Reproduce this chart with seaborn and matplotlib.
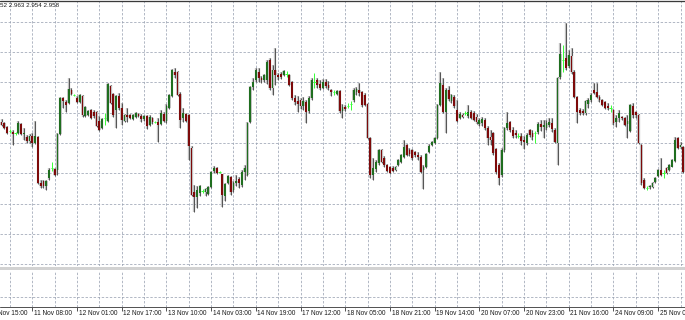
import numpy as np
import pandas as pd
import matplotlib
matplotlib.use("Agg")
import matplotlib.pyplot as plt
from matplotlib.patches import Rectangle
import seaborn as sns

# ---------------- data (H1 candles) ----------------
opens = [2.9628,2.9627,2.9623,2.9619,2.9618,2.9617,2.9617,2.9626,2.9616,2.9613,
2.9609,2.9614,2.9607,2.9613,2.9567,2.9569,2.9564,2.9572,2.9582,2.9581,
2.9580,2.9616,2.9652,2.9648,2.9647,2.9660,2.9655,2.9652,2.9648,2.9654,
2.9634,2.9635,2.9640,2.9638,2.9638,2.9629,2.9622,2.9632,2.9629,2.9664,
2.9656,2.9640,2.9654,2.9642,2.9629,2.9635,2.9635,2.9631,2.9633,2.9636,
2.9634,2.9631,2.9634,2.9625,2.9632,2.9628,2.9628,2.9626,2.9636,2.9629,
2.9642,2.9654,2.9678,2.9678,2.9656,2.9632,2.9636,2.9635,2.9602,2.9558,
2.9553,2.9557,2.9559,2.9558,2.9556,2.9563,2.9579,2.9582,2.9578,2.9576,
2.9554,2.9567,2.9573,2.9560,2.9567,2.9571,2.9565,2.9578,2.9575,2.9628,
2.9663,2.9670,2.9678,2.9672,2.9670,2.9670,2.9690,2.9662,2.9680,2.9675,
2.9676,2.9675,2.9676,2.9675,2.9668,2.9652,2.9649,2.9650,2.9644,2.9648,
2.9639,2.9652,2.9668,2.9670,2.9666,2.9662,2.9668,2.9665,2.9660,2.9658,
2.9656,2.9659,2.9639,2.9643,2.9644,2.9646,2.9650,2.9658,2.9660,2.9658,
2.9655,2.9646,2.9612,2.9575,2.9581,2.9587,2.9600,2.9592,2.9585,2.9583,
2.9582,2.9580,2.9585,2.9588,2.9593,2.9605,2.9600,2.9600,2.9598,2.9595,
2.9593,2.9580,2.9583,2.9598,2.9605,2.9607,2.9612,2.9645,2.9665,2.9638,
2.9660,2.9649,2.9653,2.9640,2.9632,2.9635,2.9637,2.9634,2.9638,2.9637,
2.9633,2.9626,2.9627,2.9630,2.9622,2.9613,2.9617,2.9601,2.9585,2.9575,
2.9600,2.9622,2.9628,2.9620,2.9617,2.9614,2.9614,2.9610,2.9607,2.9620,
2.9617,2.9617,2.9618,2.9626,2.9623,2.9622,2.9625,2.9627,2.9620,2.9607,
2.9673,2.9690,2.9692,2.9684,2.9694,2.9678,2.9653,2.9640,2.9639,2.9637,
2.9646,2.9650,2.9660,2.9658,2.9653,2.9650,2.9648,2.9644,2.9642,2.9640,
2.9628,2.9632,2.9633,2.9632,2.9626,2.9619,2.9644,2.9638,2.9635,2.9605,
2.9570,2.9562,2.9563,2.9563,2.9568,2.9574,2.9580,2.9577,2.9582,2.9580,
2.9583,2.9589,2.9612,2.9603,2.9603]
highs = [2.9631,2.9628,2.9624,2.9621,2.9620,2.9618,2.9629,2.9627,2.9622,2.9615,
2.9616,2.9617,2.9629,2.9614,2.9570,2.9570,2.9570,2.9582,2.9588,2.9582,
2.9617,2.9653,2.9653,2.9650,2.9672,2.9662,2.9656,2.9654,2.9656,2.9655,
2.9644,2.9640,2.9641,2.9640,2.9639,2.9634,2.9632,2.9637,2.9667,2.9665,
2.9657,2.9655,2.9657,2.9647,2.9636,2.9642,2.9636,2.9636,2.9638,2.9637,
2.9636,2.9635,2.9635,2.9635,2.9633,2.9629,2.9632,2.9640,2.9638,2.9646,
2.9656,2.9681,2.9682,2.9679,2.9658,2.9642,2.9637,2.9636,2.9604,2.9565,
2.9564,2.9565,2.9561,2.9562,2.9564,2.9579,2.9584,2.9583,2.9579,2.9576,
2.9567,2.9575,2.9574,2.9569,2.9575,2.9573,2.9580,2.9585,2.9628,2.9664,
2.9672,2.9682,2.9682,2.9674,2.9676,2.9690,2.9692,2.9685,2.9702,2.9677,
2.9678,2.9680,2.9679,2.9676,2.9669,2.9655,2.9654,2.9652,2.9653,2.9650,
2.9654,2.9672,2.9677,2.9672,2.9670,2.9671,2.9671,2.9669,2.9661,2.9660,
2.9660,2.9660,2.9646,2.9645,2.9647,2.9649,2.9662,2.9663,2.9667,2.9659,
2.9657,2.9647,2.9613,2.9592,2.9590,2.9601,2.9601,2.9594,2.9586,2.9584,
2.9584,2.9584,2.9591,2.9596,2.9610,2.9606,2.9602,2.9601,2.9599,2.9598,
2.9595,2.9585,2.9597,2.9606,2.9609,2.9613,2.9646,2.9678,2.9672,2.9662,
2.9664,2.9656,2.9655,2.9650,2.9638,2.9637,2.9639,2.9645,2.9640,2.9639,
2.9636,2.9632,2.9633,2.9632,2.9624,2.9620,2.9618,2.9602,2.9587,2.9602,
2.9623,2.9638,2.9629,2.9623,2.9620,2.9617,2.9617,2.9614,2.9617,2.9621,
2.9620,2.9619,2.9628,2.9630,2.9630,2.9630,2.9632,2.9632,2.9622,2.9673,
2.9707,2.9705,2.9727,2.9700,2.9702,2.9680,2.9654,2.9642,2.9641,2.9650,
2.9652,2.9657,2.9667,2.9667,2.9655,2.9651,2.9649,2.9647,2.9645,2.9641,
2.9635,2.9640,2.9634,2.9633,2.9635,2.9646,2.9647,2.9639,2.9636,2.9606,
2.9572,2.9564,2.9565,2.9568,2.9573,2.9581,2.9592,2.9580,2.9583,2.9586,
2.9591,2.9613,2.9613,2.9608,2.9604]
lows = [2.9624,2.9621,2.9616,2.9617,2.9605,2.9615,2.9616,2.9615,2.9610,2.9607,
2.9607,2.9603,2.9606,2.9566,2.9562,2.9562,2.9560,2.9570,2.9579,2.9574,
2.9575,2.9615,2.9642,2.9638,2.9646,2.9655,2.9654,2.9647,2.9647,2.9633,
2.9633,2.9634,2.9631,2.9632,2.9623,2.9619,2.9621,2.9625,2.9628,2.9646,
2.9633,2.9622,2.9640,2.9625,2.9628,2.9628,2.9631,2.9630,2.9632,2.9633,
2.9628,2.9629,2.9621,2.9624,2.9626,2.9627,2.9608,2.9625,2.9628,2.9627,
2.9641,2.9653,2.9672,2.9654,2.9622,2.9628,2.9628,2.9590,2.9554,2.9538,
2.9542,2.9554,2.9557,2.9554,2.9555,2.9562,2.9577,2.9576,2.9577,2.9543,
2.9549,2.9566,2.9555,2.9558,2.9564,2.9562,2.9563,2.9570,2.9574,2.9627,
2.9660,2.9668,2.9668,2.9667,2.9668,2.9666,2.9660,2.9655,2.9665,2.9670,
2.9671,2.9674,2.9673,2.9664,2.9650,2.9645,2.9638,2.9641,2.9640,2.9627,
2.9637,2.9650,2.9662,2.9662,2.9660,2.9661,2.9662,2.9660,2.9654,2.9655,
2.9655,2.9637,2.9632,2.9639,2.9642,2.9640,2.9648,2.9655,2.9654,2.9643,
2.9644,2.9611,2.9572,2.9570,2.9578,2.9585,2.9587,2.9583,2.9578,2.9576,
2.9578,2.9579,2.9584,2.9587,2.9592,2.9594,2.9594,2.9590,2.9593,2.9590,
2.9577,2.9561,2.9582,2.9597,2.9604,2.9606,2.9611,2.9644,2.9637,2.9617,
2.9649,2.9647,2.9642,2.9628,2.9631,2.9632,2.9635,2.9632,2.9631,2.9629,
2.9626,2.9624,2.9624,2.9620,2.9605,2.9605,2.9595,2.9576,2.9565,2.9573,
2.9598,2.9620,2.9618,2.9612,2.9612,2.9612,2.9605,2.9601,2.9605,2.9613,
2.9610,2.9607,2.9616,2.9619,2.9612,2.9620,2.9623,2.9618,2.9607,2.9585,
2.9671,2.9678,2.9680,2.9682,2.9676,2.9652,2.9627,2.9635,2.9635,2.9635,
2.9642,2.9648,2.9656,2.9652,2.9648,2.9644,2.9641,2.9640,2.9638,2.9625,
2.9623,2.9628,2.9630,2.9624,2.9612,2.9618,2.9632,2.9632,2.9606,2.9565,
2.9561,2.9560,2.9561,2.9562,2.9567,2.9573,2.9574,2.9572,2.9576,2.9579,
2.9583,2.9588,2.9601,2.9601,2.9577]
closes = [2.9625,2.9622,2.9617,2.9619,2.9616,2.9617,2.9627,2.9616,2.9617,2.9609,
2.9614,2.9607,2.9614,2.9567,2.9564,2.9564,2.9569,2.9580,2.9582,2.9575,
2.9616,2.9652,2.9649,2.9645,2.9661,2.9656,2.9655,2.9648,2.9655,2.9635,
2.9643,2.9639,2.9632,2.9634,2.9624,2.9620,2.9631,2.9632,2.9666,2.9647,
2.9635,2.9654,2.9642,2.9630,2.9635,2.9633,2.9632,2.9635,2.9637,2.9634,
2.9631,2.9634,2.9624,2.9633,2.9628,2.9628,2.9625,2.9637,2.9629,2.9644,
2.9655,2.9680,2.9675,2.9655,2.9630,2.9637,2.9629,2.9604,2.9555,2.9553,
2.9560,2.9564,2.9559,2.9561,2.9563,2.9578,2.9582,2.9577,2.9578,2.9555,
2.9566,2.9574,2.9558,2.9567,2.9569,2.9567,2.9578,2.9582,2.9627,2.9663,
2.9668,2.9680,2.9672,2.9670,2.9675,2.9688,2.9662,2.9680,2.9675,2.9673,
2.9673,2.9679,2.9676,2.9665,2.9652,2.9648,2.9646,2.9644,2.9649,2.9638,
2.9652,2.9670,2.9668,2.9665,2.9662,2.9668,2.9664,2.9662,2.9658,2.9658,
2.9659,2.9639,2.9643,2.9641,2.9644,2.9646,2.9660,2.9661,2.9657,2.9645,
2.9645,2.9612,2.9575,2.9582,2.9588,2.9600,2.9588,2.9585,2.9579,2.9577,
2.9579,2.9583,2.9590,2.9595,2.9603,2.9595,2.9596,2.9592,2.9595,2.9593,
2.9578,2.9583,2.9596,2.9604,2.9608,2.9612,2.9645,2.9667,2.9638,2.9660,
2.9651,2.9655,2.9644,2.9629,2.9636,2.9633,2.9637,2.9638,2.9632,2.9630,
2.9628,2.9630,2.9631,2.9622,2.9612,2.9610,2.9597,2.9578,2.9572,2.9600,
2.9622,2.9627,2.9620,2.9614,2.9615,2.9614,2.9609,2.9608,2.9615,2.9615,
2.9613,2.9617,2.9626,2.9623,2.9625,2.9627,2.9628,2.9621,2.9608,2.9672,
2.9696,2.9690,2.9682,2.9695,2.9678,2.9653,2.9638,2.9637,2.9637,2.9649,
2.9650,2.9655,2.9657,2.9653,2.9650,2.9645,2.9642,2.9642,2.9642,2.9627,
2.9632,2.9637,2.9632,2.9625,2.9629,2.9645,2.9635,2.9635,2.9607,2.9567,
2.9562,2.9562,2.9564,2.9567,2.9572,2.9580,2.9575,2.9577,2.9577,2.9585,
2.9590,2.9610,2.9602,2.9605,2.9578]

tick_bars = [-5, 11, 27, 43, 59, 75, 91, 107, 123, 139, 155, 171, 187, 203, 219, 235]
tick_labels = ["10 Nov 15:00", "11 Nov 08:00", "12 Nov 01:00", "12 Nov 17:00",
               "13 Nov 10:00", "14 Nov 03:00", "14 Nov 19:00", "17 Nov 12:00",
               "18 Nov 05:00", "18 Nov 21:00", "19 Nov 14:00", "20 Nov 07:00",
               "20 Nov 23:00", "21 Nov 16:00", "24 Nov 09:00", "25 Nov 02:00"]
header_text = "52 2.963 2.954 2.958"

df = pd.DataFrame({"bar": np.arange(len(opens)), "open": opens, "high": highs,
                   "low": lows, "close": closes})

# ---------------- style ----------------
sns.set_theme(style="white")
plt.rcParams['font.family'] = ['Liberation Sans Narrow', 'Liberation Sans', 'DejaVu Sans']

W, H = 685, 320
PX = 72 / 100  # points per pixel
fig = plt.figure(figsize=(W / 100, H / 100), dpi=100)
fig.patch.set_facecolor("white")

def fy(px):
    return 1 - px / H

ax = fig.add_axes([0, fy(266), 1, (266 - 1) / H])
sub = fig.add_axes([0, fy(307), 1, (307 - 271) / H])

step = 2.794          # pixels per bar
xmin = -1.57 / step
xmax = (W - 1.57) / step

# time-axis ticks first (set_xticks may widen the limits), limits afterwards
sub.set_xticks(tick_bars)
sub.set_xticklabels([""] * len(tick_bars))
sub.tick_params(axis="x", direction="out", length=4 * PX, width=0.9 * PX,
                color="#444444", pad=0, bottom=True)
ax.set_xticks([])
ax.set_yticks([])
sub.set_yticks([])

for a in (ax, sub):
    a.set_xlim(xmin, xmax)
    a.set_facecolor("white")
    for s in a.spines.values():
        s.set_visible(False)

ax.set_ylim(2.9484, 2.9749)
sub.set_ylim(0, 1)

grid_col = "#9aa3b3"
grid_kw = dict(color=grid_col, lw=0.75 * PX, ls=(0, (3.2, 2.2)), zorder=0)
grid_bars = np.arange(3, 245, 8)
grid_prices = [2.94857, 2.9516, 2.95464, 2.95767, 2.9607, 2.96374, 2.96677,
               2.9698, 2.97283]

for gx in grid_bars:
    ax.axvline(gx, **grid_kw)
    sub.axvline(gx, **grid_kw)
for gy in grid_prices:
    ax.axhline(gy, **grid_kw)
sub.axhline((307 - 297) / (307 - 271), **grid_kw)

# ---------------- candles ----------------
bull_col = "#1f6e1f"
bear_col = "#7d0a0a"
doji_col = "#3cff3c"
wick_col = "#4a4a4a"
halo_col = "#c2c2c2"
body_w = 0.64

up = df[df.close > df.open]
dn = df[df.close < df.open]
eq = df[df.close == df.open]
nd = df[df.close != df.open]

ax.vlines(nd.bar, nd.low, nd.high, color=halo_col, lw=2.3 * PX, zorder=2)
ax.vlines(nd.bar, nd.low, nd.high, color=wick_col, lw=0.9 * PX, zorder=3)
for sel, col in ((up, bull_col), (dn, bear_col)):
    bottom = np.minimum(sel.open, sel.close)
    height = np.maximum(np.abs(sel.close - sel.open), 0.00012)
    ax.bar(sel.bar, height, bottom=bottom, width=body_w + 0.3, color=halo_col,
           linewidth=0, zorder=4)
    ax.bar(sel.bar, height, bottom=bottom, width=body_w, color=col,
           linewidth=0, zorder=5)
ax.vlines(eq.bar, eq.low, eq.high, color=doji_col, lw=1.0 * PX, zorder=5)
ax.hlines(eq.close, eq.bar - 0.45, eq.bar + 0.45, color=doji_col, lw=1.0 * PX, zorder=5)

# ---------------- frame / separators ----------------
fig.add_artist(plt.Line2D([0, 1], [fy(0.6), fy(0.6)], color="#3a3a3a", lw=1.3 * PX))
fig.add_artist(Rectangle((0, fy(270)), 1, 3.0 / H, transform=fig.transFigure,
                         facecolor="#d2d2d2", edgecolor="none"))
fig.add_artist(plt.Line2D([0, 1], [fy(307.3), fy(307.3)], color="#555555", lw=1.0 * PX))

# ---------------- time axis labels ----------------
for b, lab in zip(tick_bars, tick_labels):
    sub.annotate(lab, xy=(b, 0), xycoords=("data", "axes fraction"),
                 xytext=(1.6 * PX, -6.3 * PX), textcoords="offset points",
                 ha="left", va="center", fontsize=4.7, color="#1a1a1a",
                 annotation_clip=False)

fig.text(0.0, fy(5.5), header_text, ha="left", va="center", fontsize=4.5,
         color="#1a1a1a")

fig.savefig("out.png", dpi=100, facecolor="white")
